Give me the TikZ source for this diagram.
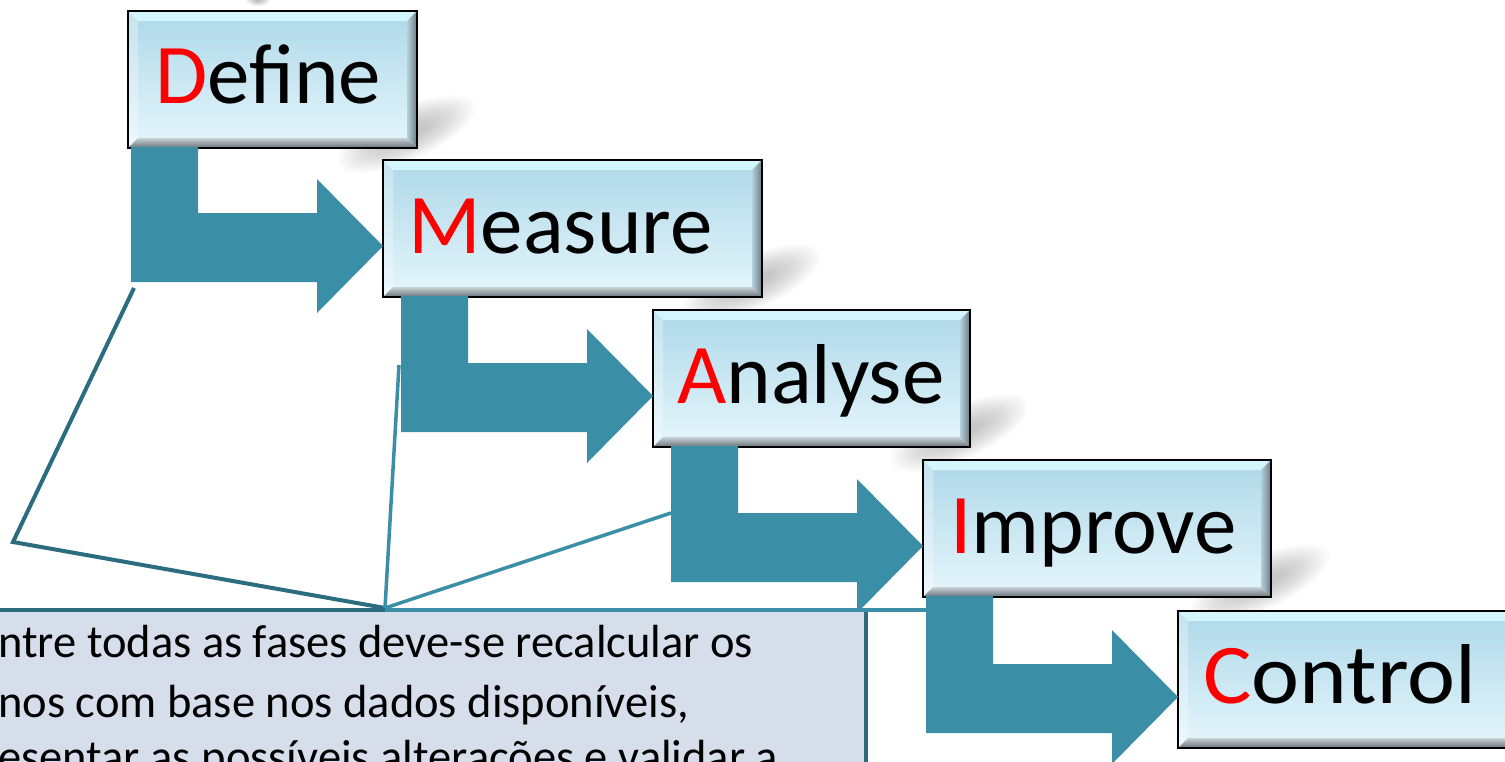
\documentclass[tikz,border=0pt]{standalone}
\usepackage{fontspec}
\setmainfont{Carlito}
\usetikzlibrary{calc}
\definecolor{tealA}{HTML}{3A8FA6}
\definecolor{tealB}{HTML}{2B6C7E}
\definecolor{boxtop}{HTML}{ADD8E8}
\definecolor{boxbot}{HTML}{E6F6FC}
\definecolor{bevtop}{HTML}{D3F6FC}
\definecolor{notefill}{HTML}{D6DDEB}
\definecolor{greyA}{HTML}{C9D2D6}
\definecolor{greyB}{HTML}{66727A}
\definecolor{rbevA}{HTML}{B3D0DA}
\definecolor{rbevB}{HTML}{6F7B81}
\pgfdeclarelayer{bg}
\pgfsetlayers{bg,main}
\tikzset{
  phase/.style={anchor=north west, inner sep=0pt, outer sep=0pt,
    top color=boxtop, bottom color=boxbot, minimum height=137pt,
    draw=black, line width=2pt,
    path picture={
      \coordinate (pnw) at (path picture bounding box.north west);
      \coordinate (pne) at (path picture bounding box.north east);
      \coordinate (psw) at (path picture bounding box.south west);
      \coordinate (pse) at (path picture bounding box.south east);
      \fill[bevtop] (pnw) -- (pne) -- ([shift={(-10pt,-10pt)}]pne) -- ([shift={(10pt,-10pt)}]pnw) -- cycle;
      \fill[white, opacity=0.3] (pnw) -- ([shift={(10pt,-10pt)}]pnw) -- ([shift={(10pt,10pt)}]psw) -- (psw) -- cycle;
      \shade[left color=rbevA, right color=rbevB] (pne) -- (pse) -- ([shift={(-10pt,10pt)}]pse) -- ([shift={(-10pt,-10pt)}]pne) -- cycle;
      \shade[top color=greyA, bottom color=greyB] (psw) -- (pse) -- ([shift={(-10pt,10pt)}]pse) -- ([shift={(10pt,10pt)}]psw) -- cycle;
    }},
  lbl/.style={anchor=base west, inner sep=0pt, font=\fontsize{85}{90}\selectfont},
  notetext/.style={anchor=base west, inner sep=0pt, font=\fontsize{46.5}{52}\selectfont},
  notebox/.style={anchor=north west, fill=notefill, inner sep=0pt, outer sep=0pt},
  linkA/.style={draw=tealA, line width=3.5pt},
  linkB/.style={draw=tealB, line width=4pt, line join=miter},
}
\newcommand{\bentarrow}[3]{%
  \coordinate (a#1) at ($(#1.south west)+(#3,1)$);
  \coordinate (t#2) at (#2.north west);
  \fill[tealA] (a#1) -- ++(67,0) -- ($(a#1 |- t#2)+(67,-53)$) -- ($(t#2)+(-66,-53)$)
    -- ($(t#2)+(-66,-19)$) -- ($(t#2)+(0,-86)$) -- ($(t#2)+(-66,-153)$)
    -- ($(t#2)+(-66,-122)$) -- ($(a#1 |- t#2)+(0,-122)$) -- cycle;
}
\newcommand{\boxshadow}[1]{%
  \begin{scope}[shift={(#1.south east)}]
    \foreach \r in {1,...,16} {
      \fill[black, opacity=0.017, rotate=24] (-4,17) ellipse ({78-3.4*\r} and {28-1.4*\r});
    }
  \end{scope}
}
\begin{document}
\begin{tikzpicture}[x=1pt, y=1pt]
\useasboundingbox (0,-761) rectangle (1505,0);
\clip (0,-761) rectangle (1505,0);

% phase boxes
\node[phase, minimum width=289pt] (D) at (128,-11) {};
\node[phase, minimum width=379pt] (M) at (383,-160) {};
\node[phase, minimum width=317pt] (A) at (653,-310) {};
\node[phase, minimum width=348pt] (I) at (923,-460) {};
\node[phase, minimum width=340pt] (C) at (1178,-611) {};

% labels
\node[lbl] (Dl) at (155,-103) {\textcolor{red}{D}efine};
\node[lbl] (Ml) at (408,-253) {\textcolor{red}{M}easure};
\node[lbl] (Al) at (677,-403) {\textcolor{red}{A}nalyse};
\node[lbl] (Il) at (950,-553) {\textcolor{red}{I}mprove};
\node[lbl, xscale=1.07] (Cl) at (1203,-703) {\textcolor{red}{C}ontrol};

% shadows
\begin{pgfonlayer}{bg}
  \boxshadow{D}
  \boxshadow{M}
  \boxshadow{A}
  \boxshadow{I}
  \foreach \r in {1,...,6} {
    \fill[black, opacity=0.05] (258,0) ellipse ({14-2*\r} and {7-\r});
  }
\end{pgfonlayer}

% bent arrows
\bentarrow{D}{M}{3}
\bentarrow{M}{A}{18}
\bentarrow{A}{I}{18}
\bentarrow{I}{C}{3}

% note box
\node[notebox, minimum width=876pt, minimum height=200pt] (N) at (-10,-610) {};
\draw[tealB, line width=4pt] (N.north east) -- (N.south east);
\node[notetext] (N1) at (-2,-657) {ntre todas as fases deve-se recalcular os};
\node[notetext] (N2) at (-2,-717) {nos com base nos dados disponíveis,};
\node[notetext] (N3) at (-2,-772) {esentar as possíveis alterações e validar a};

% connector lines
\coordinate (hub) at (385,-608);
\coordinate (L1) at (134,-288);
\coordinate (L0) at (13,-542);
\coordinate (M1) at (399,-365);
\coordinate (R1) at (671,-513);
\draw[linkB] (L1) -- (L0) -- (hub);
\draw[linkA] (M1) -- (hub);
\draw[linkA] (R1) -- (hub);
\draw[tealB, line width=4.5pt] (N.north west) -- (hub |- N.north);
\draw[tealA, line width=4.5pt] (hub |- N.north) -- (aI |- N.north);
\end{tikzpicture}
\end{document}
